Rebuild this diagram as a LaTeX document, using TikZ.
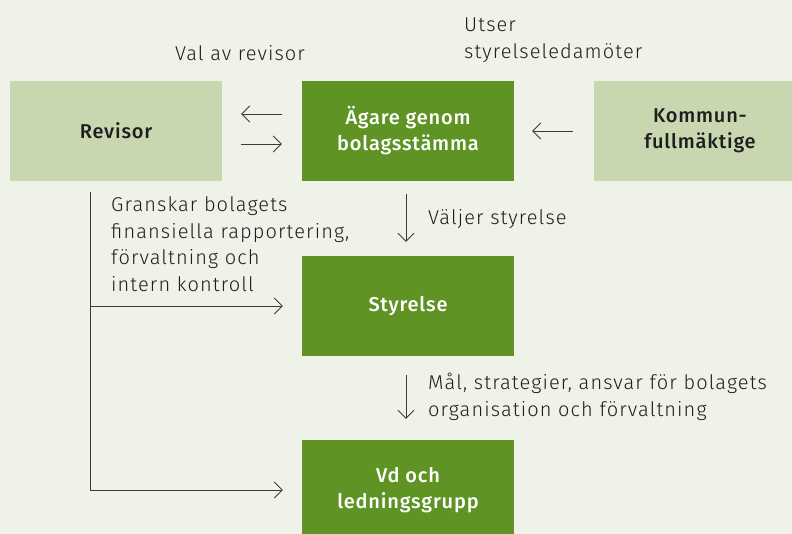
\documentclass[tikz,border=0pt]{standalone}
\usepackage{fontspec}
\setmainfont{Fira Sans Light}[LetterSpace=4, BoldFont={Fira Sans Medium}]
\usetikzlibrary{arrows.meta}
\definecolor{bgc}{HTML}{EFF2E9}
\definecolor{darkg}{HTML}{5F9424}
\definecolor{lightg}{HTML}{C9D7B1}
\definecolor{txt}{HTML}{1E1E1E}
\definecolor{linec}{HTML}{3A3A3A}
\tikzset{
  box/.style={rectangle, minimum width=212pt, minimum height=100pt, inner sep=0pt, align=center, font=\fontsize{20}{26}\selectfont\bfseries},
  darkbox/.style={box, fill=darkg, text=white},
  lightbox/.style={box, fill=lightg, text=txt},
  lbl/.style={inner sep=0pt, text=txt, font=\fontsize{20}{26.5}\selectfont\addfontfeature{LetterSpace=5.5}},
  arr/.style={draw=linec, line width=0.9pt, -{Straight Barb[length=8pt,width=16pt,line width=0.9pt]}},
  ln/.style={draw=linec, line width=0.9pt}
}
\begin{document}
\begin{tikzpicture}[x=1pt,y=-1pt]
\useasboundingbox (0,0) rectangle (792,534);
\clip (0,0) rectangle (792,534);
\fill[bgc] (0,0) rectangle (792,534);
\node[lightbox] (rev) at (116,131) {Revisor};
\node[darkbox] (ag) at (408,131) {Ägare genom\\bolagsstämma};
\node[lightbox] (kom) at (700,131) {Kommun-\\fullmäktige};
\node[darkbox] (sty) at (408,306) {Styrelse};
\node[darkbox] (vd) at (408,490) {Vd och\\ledningsgrupp};
\node[lbl, anchor=center] (lval) at (240,53) {Val av revisor};
\node[lbl, anchor=west, align=left] (luts) at (464,40) {Utser\\styrelseledamöter};
\node[lbl, anchor=west] (lvalj) at (428,219) {Väljer styrelse};
\node[lbl, anchor=west, align=left] (lgr) at (111,244) {Granskar bolagets\\finansiella rapportering,\\förvaltning och\\intern kontroll};
\node[lbl, anchor=west, align=left] (lmal) at (428,397) {Mål, strategier, ansvar för bolagets\\organisation och förvaltning};
\draw[arr] ([xshift=-20pt,yshift=17pt]ag.west) -- ([xshift=19pt,yshift=17pt]rev.east);
\draw[arr] ([xshift=19pt,yshift=-13pt]rev.east) -- ([xshift=-20pt,yshift=-13pt]ag.west);
\draw[arr] ([xshift=-21pt]kom.west) -- ([xshift=18pt]ag.east);
\draw[arr] ([xshift=-2pt,yshift=-13pt]ag.south) -- ([xshift=-2pt,yshift=14pt]sty.north);
\draw[arr] ([xshift=-2pt,yshift=-19pt]sty.south) -- ([xshift=-2pt,yshift=21pt]vd.north);
\coordinate (t) at ([xshift=-26pt,yshift=-11pt]rev.south);
\draw[ln] (t) -- (t |- vd.west);
\draw[arr] (t |- sty.west) -- ([xshift=-19pt]sty.west);
\draw[arr] (t |- vd.west) -- ([xshift=-19pt]vd.west);
\end{tikzpicture}
\end{document}
